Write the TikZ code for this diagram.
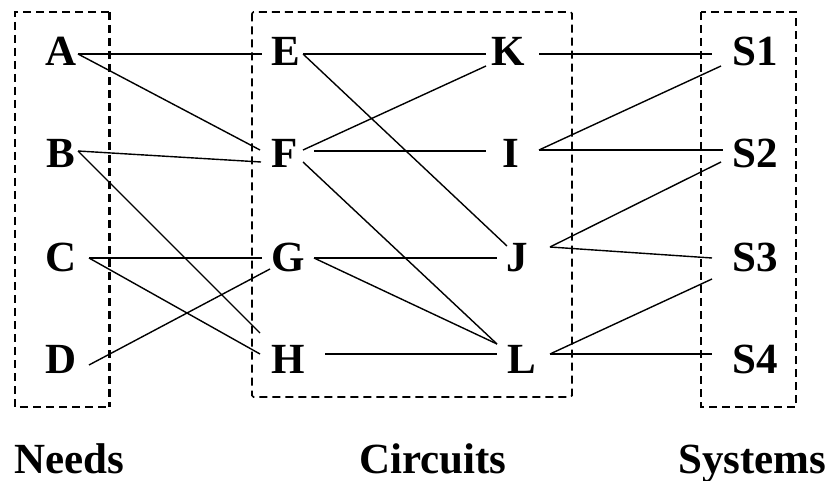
\documentclass[tikz,border=0pt]{standalone}
\usepackage{fontspec}
\setmainfont{Liberation Serif}
\begin{document}
\begin{tikzpicture}[x=1pt,y=-1pt,
  lbl/.style={inner sep=0pt,font=\fontsize{43}{50}\selectfont\bfseries,anchor=base},
  lblw/.style={lbl,anchor=base west},
  conn/.style={line width=1.4pt},
  grp/.style={line width=1.7pt,dash pattern=on 8pt off 5pt}]
\useasboundingbox (0,0) rectangle (827,481);
% group boxes
\draw[grp] (109,12) -- (15,12) -- (15,407) -- (109,407);
\draw[grp,line width=3pt] (109,12) -- (109,407);
\draw[grp,rounded corners=1.5pt] (252,12) rectangle (572,397);
\draw[grp] (701,12) rectangle (796,407);
% nodes
\node[lbl] (A) at (61,66) {A};
\node[lbl] (B) at (61,168) {B};
\node[lbl] (C) at (61,271) {C};
\node[lbl] (D) at (61,373) {D};
\node[lblw] (E) at (271,66) {E};
\node[lblw] (F) at (271,168) {F};
\node[lblw] (G) at (271,271) {G};
\node[lblw] (H) at (271,373) {H};
\node[lbl] (K) at (508,66) {K};
\node[lbl] (I) at (511,168) {I};
\node[lbl] (J) at (517,271) {J};
\node[lbl] (L) at (522,373) {L};
\node[lblw] (S1) at (732,66) {S1};
\node[lblw] (S2) at (732,168) {S2};
\node[lblw] (S3) at (732,271) {S3};
\node[lblw] (S4) at (732,373) {S4};
\node[lblw] (needs) at (14,473) {Needs};
\node[lblw] (circuits) at (359,473) {Circuits};
\node[lblw] (systems) at (678,473) {Systems};
% ports
\coordinate (A-r) at (78,54);
\coordinate (B-r) at (78,151);
\coordinate (C-r) at (89,258);
\coordinate (D-r) at (89,365);
\coordinate (E-l) at (262,54);
\coordinate (E-r) at (303,54);
\coordinate (F-lt) at (260,150);
\coordinate (F-lb) at (261,162);
\coordinate (F-rt) at (303,150);
\coordinate (F-rm) at (314,151);
\coordinate (F-rb) at (303,162);
\coordinate (G-l) at (262,258);
\coordinate (G-lb) at (270,269);
\coordinate (G-r) at (314,258);
\coordinate (H-lt) at (260,333);
\coordinate (H-lb) at (260,354);
\coordinate (H-r) at (325,354);
\coordinate (K-l) at (486,54);
\coordinate (K-lb) at (486,66);
\coordinate (K-r) at (539,54);
\coordinate (I-l) at (486,151);
\coordinate (I-r) at (539,150);
\coordinate (J-lt) at (507,246);
\coordinate (J-l) at (497,258);
\coordinate (J-r) at (550,247);
\coordinate (L-lt) at (497,344);
\coordinate (L-l) at (497,354);
\coordinate (L-r) at (550,354);
\coordinate (S1-l) at (712,54);
\coordinate (S1-lb) at (721,66);
\coordinate (S2-l) at (723,150);
\coordinate (S2-lb) at (721,162);
\coordinate (S3-l) at (712,258);
\coordinate (S3-lb) at (712,279);
\coordinate (S4-l) at (712,354);
% connectors
\draw[conn] (A-r) -- (E-l);
\draw[conn] (A-r) -- (F-lt);
\draw[conn] (B-r) -- (F-lb);
\draw[conn] (B-r) -- (H-lt);
\draw[conn] (C-r) -- (G-l);
\draw[conn] (C-r) -- (H-lb);
\draw[conn] (D-r) -- (G-lb);
\draw[conn] (E-r) -- (K-l);
\draw[conn] (E-r) -- (J-lt);
\draw[conn] (F-rt) -- (K-lb);
\draw[conn] (F-rm) -- (I-l);
\draw[conn] (F-rb) -- (L-lt);
\draw[conn] (G-r) -- (J-l);
\draw[conn] (G-r) -- (L-lt);
\draw[conn] (H-r) -- (L-l);
\draw[conn] (K-r) -- (S1-l);
\draw[conn] (I-r) -- (S1-lb);
\draw[conn] (I-r) -- (S2-l);
\draw[conn] (J-r) -- (S2-lb);
\draw[conn] (J-r) -- (S3-l);
\draw[conn] (L-r) -- (S3-lb);
\draw[conn] (L-r) -- (S4-l);
\end{tikzpicture}
\end{document}
